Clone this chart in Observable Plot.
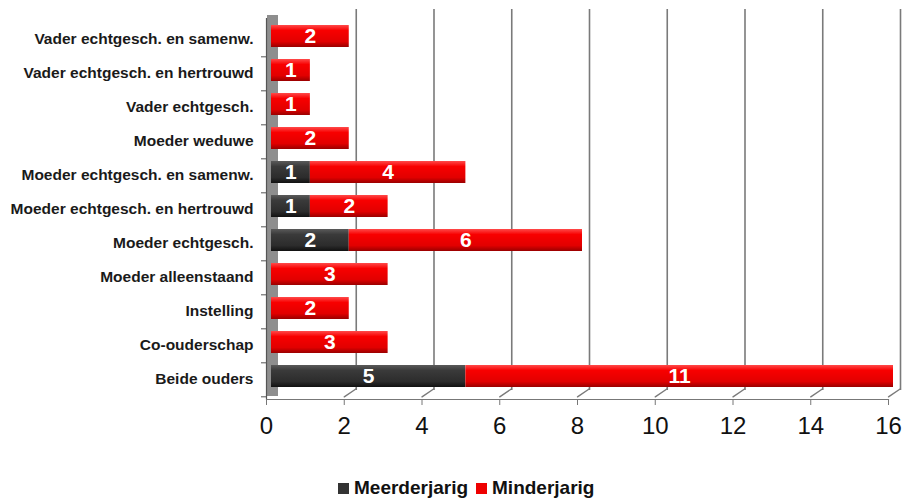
<!DOCTYPE html>
<html>
<head>
<meta charset="utf-8">
<script src="https://cdn.jsdelivr.net/npm/d3@7"></script>
<script src="https://cdn.jsdelivr.net/npm/@observablehq/plot@0.6"></script>
<style>
  body { margin: 0; background: #fff; font-family: "Liberation Sans", Arial, sans-serif; }
  #chart svg { display: block; font-family: "Liberation Sans", Arial, sans-serif; }
  #legend { margin-top: 12px; height: 22px; line-height: 22px; display: flex; align-items: center;
            padding-left: 338px; font-weight: bold; font-size: 19px; color: #111; }
  #legend .sw { display: inline-block; width: 11px; height: 11px; margin-right: 5px; }
  #legend .item { display: flex; align-items: center; margin-right: 8px; }
</style>
</head>
<body>
<div id="chart"></div>
<div id="legend"></div>
<script>
const categories = [
  "Vader echtgesch. en samenw.",
  "Vader echtgesch. en hertrouwd",
  "Vader echtgesch.",
  "Moeder weduwe",
  "Moeder echtgesch. en samenw.",
  "Moeder echtgesch. en hertrouwd",
  "Moeder echtgesch.",
  "Moeder alleenstaand",
  "Instelling",
  "Co-ouderschap",
  "Beide ouders"
];
const series = ["Meerderjarig", "Minderjarig"];
const meerderjarig = [0, 0, 0, 0, 1, 1, 2, 0, 0, 0, 5];
const minderjarig  = [2, 1, 1, 2, 4, 2, 6, 3, 2, 3, 11];
const xTicks = [0, 2, 4, 6, 8, 10, 12, 14, 16];
const seriesColors = ["#333333", "#ee0000"];

const rows = [];
categories.forEach((c, i) => {
  if (meerderjarig[i] > 0) rows.push({cat: c, series: series[0], value: meerderjarig[i]});
  if (minderjarig[i] > 0) rows.push({cat: c, series: series[1], value: minderjarig[i]});
});

const H = 465, MT = 18, MB = 66;
const step = (H - MT - MB) / categories.length;
const gridTicks = xTicks.slice(1);
const lineShape = { draw(context, l) { context.moveTo(0, 0); context.lineTo(0, -l); } };

const svg = Plot.plot({
  width: 903,
  height: H,
  marginLeft: 266,
  marginRight: 15,
  marginTop: MT,
  marginBottom: MB,
  x: { domain: [0, 16], axis: null, label: null },
  y: { domain: categories, paddingInner: 0.36, paddingOuter: 0.18, axis: null, label: null },
  color: { domain: series, range: ["url(#gradDark)", "url(#gradRed)"] },
  marks: [
    // left wall
    Plot.ruleX([0], { dx: 6, dy: -3, stroke: "#8e8e8e", strokeWidth: 11 }),
    // back gridlines
    Plot.ruleX(gridTicks, { dx: 12, dy: -9, stroke: "#7a7a7a", strokeWidth: 1.6 }),
    // floor slants
    Plot.vector(gridTicks, { x: d => d, y: () => categories[categories.length - 1], dy: step / 2,
      anchor: "start", rotate: 56, length: 14, shape: lineShape, stroke: "#7a7a7a", strokeWidth: 1.4 }),
    // axis lines
    Plot.ruleX([0], { stroke: "#555", strokeWidth: 1.2 }),
    Plot.frame({ anchor: "bottom", stroke: "#777", strokeWidth: 1.2 }),
    Plot.axisX({ ticks: xTicks, tickSize: 6, tickPadding: 11, fontSize: 24, stroke: "#777", color: "#111", label: null }),
    Plot.axisY({ tickSize: 5, dy: step / 2, tickFormat: () => "", stroke: "#555", label: null }),
    Plot.axisY({ tickSize: 0, tickPadding: 13, fontSize: 15.5, fontWeight: "bold", color: "#1a1a1a", label: null }),
    // bars
    Plot.barX(rows, Plot.stackX({ x: "value", y: "cat", fill: "series", dx: 5, dy: -3 })),
    Plot.text(rows, Plot.stackX({ x: "value", y: "cat", text: "value", dx: 5, dy: -3,
      fill: "white", fontSize: 21, fontWeight: "bold" }))
  ]
});

const defs = d3.select(svg).append("defs");
function grad(id, stops) {
  const g = defs.append("linearGradient").attr("id", id)
    .attr("x1", 0).attr("y1", 0).attr("x2", 0).attr("y2", 1);
  stops.forEach(([o, c]) => g.append("stop").attr("offset", o).attr("stop-color", c));
}
grad("gradDark", [[0, "#5a5a5a"], [0.25, "#3a3a3a"], [0.75, "#2c2c2c"], [1, "#111"]]);
grad("gradRed", [[0, "#ff4a4a"], [0.25, "#f80000"], [0.75, "#e20000"], [1, "#9a0000"]]);

document.getElementById("chart").appendChild(svg);

const legend = document.getElementById("legend");
series.forEach((s, i) => {
  const item = document.createElement("span");
  item.className = "item";
  item.innerHTML = `<span class="sw" style="background:${seriesColors[i]}"></span>${s}`;
  legend.appendChild(item);
});
</script>
</body>
</html>
